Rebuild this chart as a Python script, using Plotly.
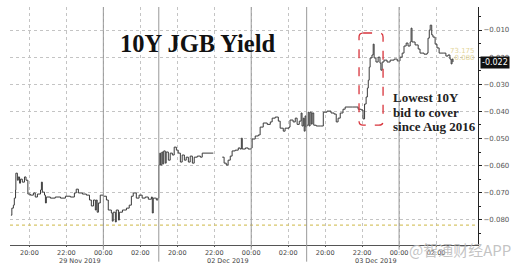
import plotly.graph_objects as go

# ---------------- data ----------------
session_dates = ["29 Nov 2019", "02 Dec 2019", "03 Dec 2019"]  # date of the 00:00 in each session

s1_times = ["19:00", "19:03", "19:08", "19:11", "19:15", "19:16", "19:21", "19:24", "19:28", "19:31",
            "19:37", "19:44", "19:49", "19:55", "20:03", "20:13", "20:19", "20:26", "20:36", "20:39",
            "20:42", "20:49", "20:52", "20:55", "21:08", "21:24", "21:41", "21:57", "22:13", "22:26",
            "22:32", "22:39", "22:52", "23:05", "23:15", "23:21", "23:28", "23:34", "23:37", "23:40",
            "23:44", "23:50", "00:00", "00:10", "00:16", "00:26", "00:29", "00:32", "00:39", "00:42",
            "00:49", "00:52", "01:02", "01:15", "01:24", "01:31", "01:37", "01:47", "01:56", "02:06",
            "02:16", "02:26", "02:36", "02:39", "02:42", "02:52", "02:57"]
s1_vals = [-0.0783, -0.0757, -0.0746, -0.0720, -0.0690, -0.0628, -0.0654, -0.0642, -0.0665, -0.0650,
           -0.0661, -0.0642, -0.0654, -0.0705, -0.0709, -0.0701, -0.0716, -0.0705, -0.0690, -0.0661,
           -0.0698, -0.0709, -0.0738, -0.0716, -0.0720, -0.0716, -0.0720, -0.0713, -0.0716, -0.0701,
           -0.0687, -0.0701, -0.0705, -0.0709, -0.0727, -0.0749, -0.0727, -0.0764, -0.0727, -0.0772,
           -0.0738, -0.0709, -0.0713, -0.0727, -0.0764, -0.0775, -0.0805, -0.0772, -0.0808, -0.0764,
           -0.0801, -0.0772, -0.0764, -0.0757, -0.0746, -0.0713, -0.0701, -0.0720, -0.0709, -0.0720,
           -0.0716, -0.0724, -0.0716, -0.0775, -0.0720, -0.0727, -0.0720]

s2_times = ["19:00", "19:03", "19:06", "19:10", "19:13", "19:16", "19:21", "19:24", "19:31", "19:37",
            "19:44", "19:50", "19:57", "20:03", "20:10", "20:16", "20:23", "20:29", "20:36", "20:42",
            "20:49", "20:55", "21:05", "21:15", "21:21", "21:57", "22:10", "22:26", "22:32", "22:39",
            "22:45", "22:52", "22:58", "23:08", "23:18", "23:24", "23:28", "23:31", "23:41", "23:50",
            "00:00", "00:03", "00:13", "00:23", "00:29", "00:39", "00:52", "01:02", "01:08", "01:18",
            "01:28", "01:34", "01:44", "01:50", "02:03", "02:06", "02:16", "02:23", "02:29", "02:36",
            "02:42", "02:45", "02:49", "02:52", "02:55", "02:58"]
s2_vals = [-0.0598, -0.0554, -0.0598, -0.0550, -0.0594, -0.0546, -0.0591, -0.0550, -0.0580, -0.0554,
           -0.0561, -0.0532, -0.0543, -0.0554, -0.0587, -0.0561, -0.0580, -0.0569, -0.0587, -0.0565,
           -0.0591, -0.0569, -0.0565, -0.0569, -0.0554, -0.0554, None, -0.0569, -0.0591, -0.0598,
           -0.0580, -0.0565, -0.0546, -0.0543, -0.0535, -0.0539, -0.0499, -0.0539, -0.0535, -0.0539,
           -0.0535, -0.0502, -0.0491, -0.0487, -0.0458, -0.0443, -0.0448, -0.0439, -0.0425, -0.0421,
           -0.0436, -0.0462, -0.0473, -0.0462, -0.0458, -0.0432, -0.0439, -0.0425, -0.0448, -0.0436,
           -0.0406, -0.0454, -0.0425, -0.0473, -0.0417, -0.0458]

s3_times = ["19:00", "19:05", "19:08", "19:11", "19:15", "19:18", "19:23", "19:31", "19:44", "19:54",
            "20:06", "20:19", "20:29", "20:36", "20:42", "20:49", "20:58", "21:05", "21:28", "21:47",
            "21:57", "22:03", "22:08", "22:13", "22:17", "22:20", "22:23", "22:26", "22:32", "22:36",
            "22:39", "22:45", "22:52", "22:58", "23:01", "23:05", "23:11", "23:21", "23:31", "23:44",
            "23:54", "00:03", "00:10", "00:16", "00:23", "00:29", "00:36", "00:39", "00:42", "00:52",
            "01:02", "01:08", "01:21", "01:31", "01:34", "01:38", "01:41", "01:46", "01:50", "01:57",
            "02:03", "02:10", "02:23", "02:32", "02:39", "02:45", "02:49", "02:52", "02:55"]
s3_vals = [-0.0451, -0.0403, -0.0454, -0.0403, -0.0447, -0.0406, -0.0451, -0.0454, -0.0454, -0.0403,
           -0.0399, -0.0406, -0.0410, -0.0439, -0.0425, -0.0406, -0.0392, -0.0384, -0.0384, -0.0392,
           -0.0395, -0.0428, -0.0373, -0.0347, -0.0314, -0.0285, -0.0237, -0.0203, -0.0192, -0.0152,
           -0.0203, -0.0218, -0.0200, -0.0222, -0.0248, -0.0218, -0.0211, -0.0218, -0.0211, -0.0207,
           -0.0214, -0.0200, -0.0185, -0.0159, -0.0148, -0.0159, -0.0144, -0.0093, -0.0144, -0.0155,
           -0.0170, -0.0185, -0.0189, -0.0185, -0.0130, -0.0100, -0.0082, -0.0118, -0.0126, -0.0152,
           -0.0166, -0.0185, -0.0185, -0.0196, -0.0192, -0.0207, -0.0225, -0.0207, -0.0218]

last_value = -0.022
reference_level = -0.0820
x_tick_labels = ["20:00", "22:00", "00:00", "02:00"]
y_tick_values = [-0.010, -0.020, -0.030, -0.040, -0.050, -0.060, -0.070, -0.080]

SESSION_START = 19   # each session runs 19:00 -> 03:00 (8 h)
SESSION_LEN = 8


def to_axis(t, session):
    h, m = map(int, t.split(":"))
    return session * SESSION_LEN + (h - SESSION_START) % 24 + m / 60.0


xs, ys = [], []
for s, (times, vals) in enumerate([(s1_times, s1_vals), (s2_times, s2_vals), (s3_times, s3_vals)]):
    for t, v in zip(times, vals):
        xs.append(to_axis(t, s))
        ys.append(v)

tickvals, ticktext = [], []
for s in range(3):
    for lab in x_tick_labels:
        tickvals.append(to_axis(lab, s))
        ticktext.append(lab)

fig = go.Figure()
fig.add_trace(go.Scatter(x=xs, y=ys, mode="lines", line=dict(color="#3a3a3a", width=1.0, shape="hv"),
                         connectgaps=False, hoverinfo="skip", showlegend=False))

# reference (yellow dotted) level
fig.add_hline(y=reference_level, line=dict(color="#d8c66a", width=1.2, dash="dot"))

# solid lines at midnights and session breaks
for s in range(3):
    fig.add_shape(type="line", xref="x", yref="paper", x0=to_axis("00:00", s), x1=to_axis("00:00", s),
                  y0=-0.02, y1=1, line=dict(color="#999999", width=1))
for s in (1, 2):
    fig.add_shape(type="line", xref="x", yref="paper", x0=s * SESSION_LEN, x1=s * SESSION_LEN,
                  y0=-0.07, y1=1, line=dict(color="#999999", width=1))

# red dashed rounded box around the spike
bx0, bx1 = to_axis("21:50", 2), to_axis("23:08", 2)
by0, by1 = -0.0451, -0.0111
rx, ry = 0.22, 0.0015
path = (f"M{bx0+rx},{by1} L{bx1-rx},{by1} Q{bx1},{by1} {bx1},{by1-ry} L{bx1},{by0+ry} "
        f"Q{bx1},{by0} {bx1-rx},{by0} L{bx0+rx},{by0} Q{bx0},{by0} {bx0},{by0+ry} "
        f"L{bx0},{by1-ry} Q{bx0},{by1} {bx0+rx},{by1} Z")
fig.add_shape(type="path", path=path, xref="x", yref="y",
              line=dict(color="#d8343c", width=1.3, dash="dash"))

ann = []
ann.append(dict(text="<b>10Y JGB Yield</b>", xref="paper", yref="paper", x=0.230, y=0.845,
                xanchor="left", yanchor="middle", showarrow=False,
                font=dict(family="Liberation Serif", size=24.5, color="#111")))
for i, line in enumerate(["Lowest 10Y", "bid to cover", "since Aug 2016"]):
    ann.append(dict(text=f"<b>{line}</b>", xref="paper", yref="paper", x=0.814, y=0.618 - i * 0.061,
                    xanchor="left", yanchor="middle", showarrow=False,
                    font=dict(family="Liberation Serif", size=13, color="#222")))
for s, d in enumerate(session_dates):
    ann.append(dict(text=d, xref="x", yref="paper", x=to_axis("00:00", s), y=-0.066,
                    xanchor="right", yanchor="middle", showarrow=False,
                    font=dict(family="DejaVu Sans", size=6.5, color="#444")))
ann.append(dict(text="73.175", xref="paper", yref="paper", x=0.998, y=0.815, xanchor="right",
                yanchor="middle", showarrow=False, font=dict(family="DejaVu Sans", size=7, color="#e3d59a")))
ann.append(dict(text="-0.080", xref="paper", yref="paper", x=0.998, y=0.785, xanchor="right",
                yanchor="middle", showarrow=False, font=dict(family="DejaVu Sans", size=7, color="#e3d59a")))
ann.append(dict(text=f"{last_value:.3f}", xref="paper", yref="y", x=1.0, y=last_value, xshift=2,
                xanchor="left", yanchor="middle", showarrow=False, bgcolor="#111", borderpad=1,
                font=dict(family="DejaVu Sans", size=8, color="white")))
ann.append(dict(text="@智通财经APP", xref="paper", yref="paper", x=1.075, y=-0.02, xanchor="right",
                yanchor="middle", showarrow=False,
                font=dict(family="Noto Sans CJK SC", size=15, color="rgba(185,185,185,0.85)")))

fig.update_layout(
    width=516, height=270, margin=dict(l=10, r=38, t=7, b=25),
    paper_bgcolor="white", plot_bgcolor="white", annotations=ann,
    xaxis=dict(range=[-0.05, 25.27], tickvals=tickvals, ticktext=ticktext, showgrid=True,
               gridcolor="#c4c4c4", griddash="dot", gridwidth=1, zeroline=False,
               showline=True, linecolor="#555", linewidth=1, ticks="outside", ticklen=1,
               tickcolor="#555", ticklabelstandoff=0,
               tickfont=dict(family="DejaVu Sans", size=6.5, color="#444")),
    yaxis=dict(range=[-0.0893, -0.0015], side="right", tickvals=y_tick_values, tickformat=".3f",
               showgrid=True, gridcolor="#c4c4c4", griddash="dot", gridwidth=1, zeroline=False,
               showline=True, linecolor="#222", linewidth=1, ticks="outside", ticklen=3,
               tickcolor="#222", tickfont=dict(family="DejaVu Sans", size=7, color="#555"),
               minor=dict(dtick=0.005, ticks="outside", ticklen=2, tickcolor="#222", showgrid=False)),
)

fig.write_html("out.html")
